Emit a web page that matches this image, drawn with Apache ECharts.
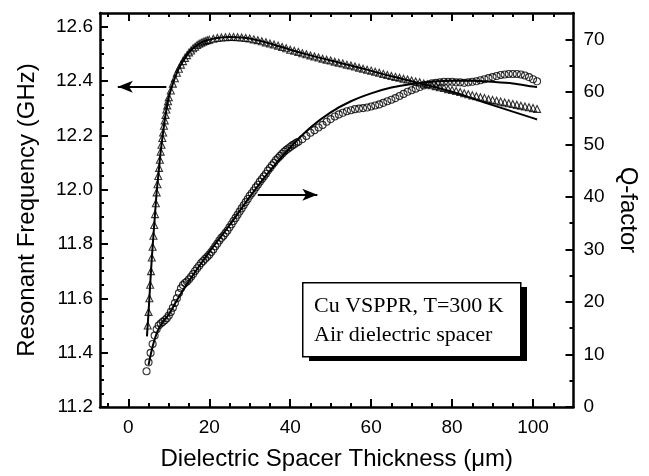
<!DOCTYPE html>
<html>
<head>
<meta charset="utf-8">
<script src="https://cdn.jsdelivr.net/npm/echarts@6/dist/echarts.min.js"></script>
<style>html,body{margin:0;padding:0;background:#fff;}#c{width:649px;height:476px;}</style>
</head>
<body>
<div id="c"></div>
<script>
// ---- Data ----
const freqX = [4.8,5.0,5.2,5.4,5.6,5.8,6.0,6.2,6.4,6.6,6.8,7.0,7.2,7.4,7.6,7.8,8.0,8.2,8.4,8.6,8.8,9.0,9.2,9.4,9.6,9.8,10.0,
  10.5,11,11.5,12,12.5,13,13.5,14,14.5,15,15.5,16,16.5,17,17.5,18,18.5,19,19.5,20,
  21,22,23,24,25,26,27,28,29,30,31,32,33,34,35,36,37,38,39,40,41,42,43,44,45,46,47,48,49,50,
  51,52,53,54,55,56,57,58,59,60,61,62,63,64,65,66,67,68,69,70,71,72,73,74,75,76,77,78,79,80,
  81,82,83,84,85,86,87,88,89,90,91,92,93,94,95,96,97,98,99,100,101];
const freqY = [11.50,11.55,11.60,11.65,11.70,11.75,11.79,11.83,11.87,11.91,11.95,11.99,12.02,12.05,12.08,12.11,12.14,12.165,12.19,12.21,12.235,12.255,12.275,12.295,12.31,12.325,12.34,
  12.365,12.39,12.41,12.43,12.445,12.46,12.473,12.485,12.495,12.505,12.512,12.52,12.526,12.532,12.537,12.541,12.544,12.547,12.55,12.552,
  12.555,12.558,12.56,12.561,12.562,12.562,12.561,12.56,12.558,12.556,12.553,12.55,12.546,12.542,12.538,12.534,12.53,12.525,12.52,12.515,12.511,12.507,12.502,12.498,12.494,12.49,12.486,12.482,12.478,12.475,
  12.471,12.467,12.464,12.46,12.457,12.453,12.449,12.445,12.441,12.438,12.434,12.43,12.426,12.422,12.418,12.415,12.412,12.408,12.405,12.402,12.398,12.395,12.391,12.388,12.384,12.381,12.377,12.374,12.37,12.367,
  12.363,12.359,12.355,12.351,12.347,12.344,12.34,12.337,12.333,12.33,12.327,12.324,12.321,12.318,12.315,12.312,12.309,12.306,12.303,12.3,12.297];

const freqFitX = [4.6,5.0,5.5,6.0,6.5,7.0,7.5,8.0,9.0,10,11,12,13,14,15,16,18,20,22,25,28,30,35,40,45,50,55,60,65,70,75,80,85,90,95,100,101];
const freqFitY = [11.46,11.55,11.675,11.79,11.89,11.99,12.065,12.14,12.255,12.34,12.39,12.43,12.46,12.485,12.505,12.52,12.541,12.552,12.558,12.562,12.56,12.556,12.538,12.515,12.494,12.475,12.457,12.437,12.417,12.399,12.38,12.36,12.336,12.311,12.287,12.263,12.258];

const qX = [4.5,5.0,5.5,6.0,6.5,7.0,7.5,8.0,8.5,9.0,9.5,10.0,10.5,11.0,11.5,12.0,12.5,13.0,13.5,14.0,14.5,15.0,15.5,16.0,16.5,17.0,17.5,18.0,18.5,19.0,19.5,20.0,
  20.5,21.0,21.5,22.0,22.5,23.0,23.5,24.0,24.5,25.0,25.5,26.0,26.5,27.0,27.5,28.0,28.5,29.0,29.5,30.0,30.5,31.0,31.5,32.0,32.5,33.0,33.5,34.0,34.5,35.0,
  35.5,36.0,36.5,37.0,37.5,38.0,38.5,39.0,39.5,40.0,40.5,41.0,41.5,42.0,
  43,44,45,46,47,48,49,50,51,52,53,54,55,56,57,58,59,60,61,62,63,64,65,66,67,68,69,70,71,72,
  73,74,75,76,77,78,79,80,81,82,83,84,85,86,87,88,89,90,91,92,93,94,95,96,97,98,99,100,101];
const qY = [6.8,8.5,10.3,12.0,13.6,14.8,15.5,15.9,16.2,16.5,16.9,17.4,18.1,18.9,19.8,20.7,21.7,22.6,23.2,23.6,23.9,24.3,24.8,25.3,25.9,26.4,26.9,27.4,27.8,28.2,28.6,29.0,
  29.5,30.0,30.6,31.1,31.7,32.2,32.6,33.1,33.6,34.2,34.8,35.4,36.0,36.6,37.2,37.8,38.4,39.0,39.6,40.2,40.7,41.2,41.8,42.3,42.9,43.4,43.9,44.4,45.0,45.5,
  46.0,46.5,47.0,47.4,47.8,48.2,48.6,48.9,49.2,49.5,49.8,50.0,50.3,50.5,
  51.0,51.6,52.2,52.7,53.2,53.7,54.3,54.8,55.3,55.7,56.0,56.3,56.5,56.7,56.8,56.9,57.0,57.2,57.4,57.6,57.9,58.2,58.5,58.8,59.2,59.6,60.0,60.3,60.6,60.9,
  61.2,61.4,61.6,61.7,61.8,61.9,61.9,61.9,61.8,61.8,61.7,61.8,61.9,62.0,62.2,62.4,62.6,62.8,63.0,63.2,63.3,63.4,63.4,63.4,63.3,63.1,62.8,62.4,62.0];

const qFitX = [5,6,7,8,10,12,15,20,25,30,35,40,45,50,55,60,65,70,75,80,85,90,95,100,101];
const qFitY = [8.0,11.5,14.0,15.6,17.6,20.3,24.0,29.5,34.6,40.0,45.0,49.4,53.2,56.1,58.2,59.7,60.8,61.5,61.9,62.1,62.1,61.9,61.6,61.0,60.9];

// tick values
const xMajor = [0,20,40,60,80,100];
const xMinor = [-5,5,10,15,25,30,35,45,50,55,65,70,75,85,90,95,105];
const fMajor = [11.2,11.4,11.6,11.8,12.0,12.2,12.4,12.6];
const fMinor = [11.25,11.3,11.35,11.45,11.5,11.55,11.65,11.7,11.75,11.85,11.9,11.95,12.05,12.1,12.15,12.25,12.3,12.35,12.45,12.5,12.55];
const qMajor = [0,10,20,30,40,50,60,70];
const qMinor = [5,15,25,35,45,55,65];

// arrows (data coordinates)
const freqArrow = {y: 12.379, from: 9.4, to: -2.6};
const qArrow = {y: 40.4, from: 32, to: 46.7};

const zip = (a, b) => a.map((v, i) => [v, b[i]]);

const SANS = '"Liberation Sans", Arial, Helvetica, sans-serif';
const SERIF = '"Liberation Serif", "Times New Roman", serif';
const XMIN = -7, XMAX = 110, FMIN = 11.2, FMAX = 12.65, QMIN = 0, QMAX = 75;

const lineBlack = {color: '#000', width: 2.5};
const tickStyle = {color: '#000', width: 2};

function xAx(pos, vals, len, showLine, labels, extra) {
  return Object.assign({
    type: 'value', position: pos, min: XMIN, max: XMAX,
    axisLine: {show: showLine, onZero: false, lineStyle: lineBlack},
    splitLine: {show: false},
    axisTick: {show: true, inside: true, length: len, lineStyle: tickStyle, customValues: vals},
    axisLabel: labels ? {customValues: vals, color: '#000', fontSize: 19, fontFamily: SANS, margin: 11} : {show: false}
  }, extra || {});
}
function yAx(pos, mn, mx, vals, len, showLine, labels, extra) {
  return Object.assign({
    type: 'value', position: pos, min: mn, max: mx,
    axisLine: {show: showLine, onZero: false, lineStyle: lineBlack},
    splitLine: {show: false},
    axisTick: {show: true, inside: true, length: len, lineStyle: tickStyle, customValues: vals},
    axisLabel: labels ? {customValues: vals, color: '#000', fontSize: 19, fontFamily: SANS, margin: pos === 'left' ? 7 : 10,
      formatter: pos === 'left' ? (v => v.toFixed(1)) : (v => String(v))} : {show: false}
  }, extra || {});
}

const nameStyle = {color: '#000', fontSize: 24, fontFamily: SANS};

const option = {
  animation: false,
  backgroundColor: '#fff',
  grid: {left: 100, right: 75.5, top: 13, bottom: 61, containLabel: false},
  xAxis: [
    xAx('bottom', xMajor, 8, true, true, {name: 'Dielectric Spacer Thickness (\u03bcm)', nameLocation: 'middle', nameGap: 40, nameTextStyle: nameStyle}),
    xAx('bottom', xMinor, 4, false, false),
    xAx('top', xMajor, 8, true, false),
    xAx('top', xMinor, 4, false, false)
  ],
  yAxis: [
    yAx('left', FMIN, FMAX, fMajor, 8, true, true, {name: 'Resonant Frequency (GHz)', nameLocation: 'middle', nameRotate: 90, nameGap: 61, nameTextStyle: nameStyle}),
    yAx('left', FMIN, FMAX, fMinor, 4, false, false),
    yAx('right', QMIN, QMAX, qMajor, 8, true, true, {name: 'Q-factor', nameLocation: 'middle', nameRotate: -90, nameGap: 42, nameTextStyle: nameStyle}),
    yAx('right', QMIN, QMAX, qMinor, 4, false, false)
  ],
  series: [
    {
      type: 'line', xAxisIndex: 0, yAxisIndex: 0, data: zip(freqFitX, freqFitY), smooth: 0.3,
      showSymbol: false, symbol: 'none', lineStyle: {color: '#000', width: 2}, silent: true, z: 2,
      markLine: {
        silent: true, symbol: ['none', 'arrow'], symbolSize: [9, 15], label: {show: false},
        lineStyle: {color: '#000', width: 2, type: 'solid'},
        emphasis: {disabled: true},
        data: [[{coord: [freqArrow.from, freqArrow.y]}, {coord: [freqArrow.to, freqArrow.y]}]]
      }
    },
    {
      type: 'scatter', xAxisIndex: 0, yAxisIndex: 0, data: zip(freqX, freqY), symbol: 'triangle', symbolSize: 7,
      itemStyle: {color: 'rgba(0,0,0,0)', borderColor: '#000', borderWidth: 1.1}, silent: true, z: 3
    },
    {
      type: 'line', xAxisIndex: 0, yAxisIndex: 2, data: zip(qFitX, qFitY), smooth: 0.3,
      showSymbol: false, symbol: 'none', lineStyle: {color: '#000', width: 2}, silent: true, z: 2,
      markLine: {
        silent: true, symbol: ['none', 'arrow'], symbolSize: [9, 15], label: {show: false},
        lineStyle: {color: '#000', width: 2, type: 'solid'},
        emphasis: {disabled: true},
        data: [[{coord: [qArrow.from, qArrow.y]}, {coord: [qArrow.to, qArrow.y]}]]
      }
    },
    {
      type: 'scatter', xAxisIndex: 0, yAxisIndex: 2, data: zip(qX, qY), symbol: 'circle', symbolSize: 7,
      itemStyle: {color: 'rgba(0,0,0,0)', borderColor: '#000', borderWidth: 1.1}, silent: true, z: 3
    }
  ],
  graphic: [
    {type: 'rect', left: 309, top: 287, shape: {width: 218, height: 74}, style: {fill: '#000'}, z: 100},
    {type: 'rect', left: 302, top: 282, shape: {width: 218, height: 74}, style: {fill: '#fff', stroke: '#000', lineWidth: 1.5}, z: 101},
    {type: 'text', left: 314, top: 295, style: {text: 'Cu VSPPR, T=300 K', fill: '#000', font: '22px ' + SERIF}, z: 102},
    {type: 'text', left: 314, top: 324, style: {text: 'Air dielectric spacer', fill: '#000', font: '22px ' + SERIF}, z: 102}
  ]
};

const chart = echarts.init(document.getElementById('c'), null, {renderer: 'canvas'});
chart.setOption(option);
</script>
</body>
</html>
